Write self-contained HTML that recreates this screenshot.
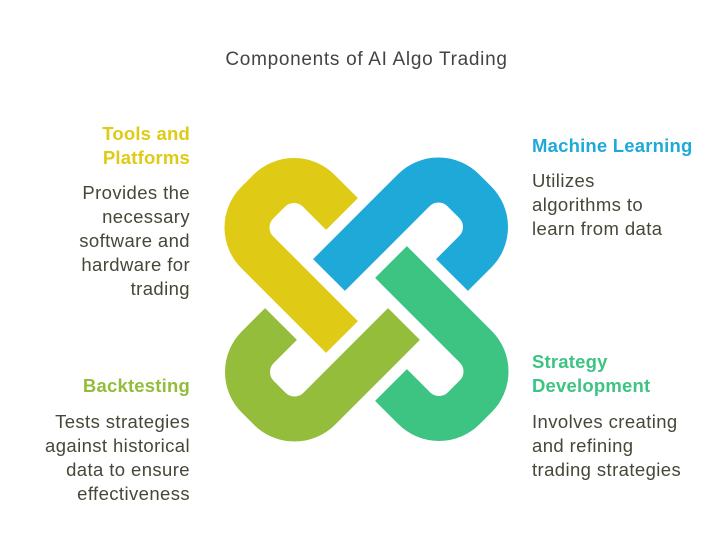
<!DOCTYPE html>
<html><head><meta charset="utf-8"><style>
body{margin:0;width:723px;height:554px;background:#fff;position:relative;overflow:hidden;font-family:"Liberation Sans",sans-serif}
.t{position:absolute;font-size:18.5px;line-height:24px;color:#474739;letter-spacing:0.4px;white-space:nowrap}
.r{text-align:right}
.h{font-weight:bold;letter-spacing:0.2px}
</style></head><body>
<div class="t" style="left:0;width:733px;text-align:center;top:48px;font-size:19px;letter-spacing:0.7px;color:#444">Components of AI Algo Trading</div>

<div class="t r h" style="right:533px;top:122px;color:#DFCB15">Tools and<br>Platforms</div>
<div class="t r" style="right:533px;top:181px">Provides the<br>necessary<br>software and<br>hardware for<br>trading</div>

<div class="t h" style="left:532px;top:134px;color:#1FA9D9">Machine Learning</div>
<div class="t" style="left:532px;top:169px">Utilizes<br>algorithms to<br>learn from data</div>

<div class="t h" style="left:532px;top:350px;color:#3DC483">Strategy<br>Development</div>
<div class="t" style="left:532px;top:410px">Involves creating<br>and refining<br>trading strategies</div>

<div class="t r h" style="right:533px;top:374px;color:#93BD3A">Backtesting</div>
<div class="t r" style="right:533px;top:410px">Tests strategies<br>against historical<br>data to ensure<br>effectiveness</div>

<svg width="723" height="554" style="position:absolute;left:0;top:0">
<defs>
<path id="p" d="M342,214 L318.75,190.75 A35,35 0 0 0 269.25,190.75 L257.25,202.75 A35,35 0 0 0 257.25,252.25 L342,337" fill="none" stroke-width="45" stroke-linejoin="round" stroke-linecap="butt"/>
</defs>
<use href="#p" stroke="#DFCB15"/>
<use href="#p" stroke="#1FA9D9" transform="rotate(90 366.5 299.5)"/>
<use href="#p" stroke="#3DC483" transform="rotate(180 366.5 299.5)"/>
<use href="#p" stroke="#93BD3A" transform="rotate(270 366.5 299.5)"/>
</svg>
</body></html>
